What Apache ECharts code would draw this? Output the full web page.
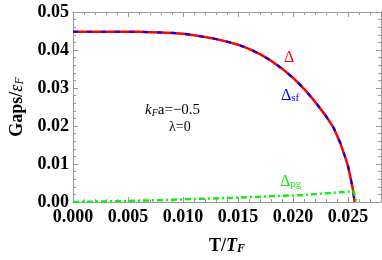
<!DOCTYPE html>
<html><head><meta charset="utf-8">
<script src="https://cdn.jsdelivr.net/npm/echarts@6/dist/echarts.min.js"></script>
<style>html,body{margin:0;padding:0;background:#fff}#c{width:382px;height:260px}</style>
</head><body><div id="c"></div>
<script>
// Temperature grid (T/T_F) for the superconducting gap curves
const T_gap = [0.000,0.002,0.004,0.006,0.007,0.008,0.009,0.010,0.011,0.012,0.013,0.014,0.015,0.016,0.017,0.018,0.019,0.020,0.021,0.022,0.023,0.0237,0.0243,0.0247,0.0250,0.0252,0.0254,0.0255,0.0256];
// total gap Δ
const delta = [0.0448,0.0448,0.0448,0.0448,0.0447,0.0446,0.0445,0.0443,0.0439,0.0434,0.0429,0.0422,0.0414,0.0403,0.0389,0.0372,0.0351,0.0327,0.0298,0.0264,0.0226,0.0195,0.0155,0.0122,0.0095,0.0068,0.0040,0.0023,0.0000];
// superfluid gap Δsf
const deltaSf = [0.0448,0.0448,0.0448,0.0448,0.0447,0.0446,0.0445,0.0443,0.0439,0.0434,0.0429,0.0422,0.0414,0.0403,0.0389,0.0372,0.0351,0.0327,0.0298,0.0264,0.0226,0.0195,0.0155,0.0122,0.0095,0.0068,0.0040,0.0023,0.0000];
// pseudogap Δpg
const T_pg = [0.000,0.004,0.008,0.011,0.0145,0.017,0.0207,0.023,0.0249,0.0255,0.0258];
const deltaPg = [0.0000,0.0002,0.0005,0.0008,0.0011,0.0014,0.0018,0.0023,0.0027,0.0029,0.0000];
// tick labels
const xTickLabels = ['0.000','0.005','0.010','0.015','0.020','0.025'];
const yTickLabels = ['0.00','0.01','0.02','0.03','0.04','0.05'];

const pairs = (xs, ys) => xs.map((x, i) => [x, ys[i]]);
const SERIF = "'Liberation Serif','DejaVu Serif',serif";
const FRAME = '#9a9a9a';

function xAx(pos, showLabel) {
  return {
    type: 'value', position: pos, min: 0, max: 0.028, interval: 0.005,
    axisLine: { show: true, onZero: false, lineStyle: { color: FRAME, width: 1 } },
    axisTick: { show: true, inside: true, length: 5, lineStyle: { color: FRAME } },
    minorTick: { show: true, splitNumber: 5, length: 3, lineStyle: { color: FRAME } },
    splitLine: { show: false }, minorSplitLine: { show: false },
    axisLabel: {
      show: showLabel, showMaxLabel: false, margin: 6,
      fontFamily: SERIF, fontWeight: 'bold', fontSize: 18, color: '#000',
      formatter: v => xTickLabels[Math.round(v / 0.005)] || ''
    },
    name: showLabel ? '{b|T/}{i|T}{s|F}' : '',
    nameLocation: 'middle', nameGap: 33,
    nameTextStyle: {
      rich: {
        b: { fontFamily: SERIF, fontWeight: 'bold', fontSize: 18, color: '#000', lineHeight: 20, verticalAlign: 'bottom' },
        i: { fontFamily: SERIF, fontWeight: 'bold', fontStyle: 'italic', fontSize: 18, color: '#000', lineHeight: 20, verticalAlign: 'bottom' },
        s: { fontFamily: SERIF, fontWeight: 'bold', fontStyle: 'italic', fontSize: 12, color: '#000', lineHeight: 10, verticalAlign: 'bottom' }
      }
    }
  };
}
function yAx(pos, showLabel) {
  return {
    type: 'value', position: pos, min: 0, max: 0.05, interval: 0.01,
    axisLine: { show: true, onZero: false, lineStyle: { color: FRAME, width: 1 } },
    axisTick: { show: true, inside: true, length: 5, lineStyle: { color: FRAME } },
    minorTick: { show: true, splitNumber: 5, length: 3, lineStyle: { color: FRAME } },
    splitLine: { show: false }, minorSplitLine: { show: false },
    axisLabel: {
      show: showLabel, margin: 4,
      fontFamily: SERIF, fontWeight: 'bold', fontSize: 18, color: '#000',
      formatter: v => yTickLabels[Math.round(v / 0.01)] || ''
    },
    name: showLabel ? '{b|Gaps/}{i|ε}{s|F}' : '',
    nameLocation: 'middle', nameGap: 47, nameRotate: 90,
    nameTextStyle: {
      rich: {
        b: { fontFamily: SERIF, fontWeight: 'bold', fontSize: 18, color: '#000', lineHeight: 20, verticalAlign: 'bottom' },
        i: { fontFamily: SERIF, fontStyle: 'italic', fontSize: 18, color: '#000', lineHeight: 20, verticalAlign: 'bottom' },
        s: { fontFamily: SERIF, fontStyle: 'italic', fontSize: 12, color: '#000', lineHeight: 10, verticalAlign: 'bottom' }
      }
    }
  };
}

const chart = echarts.init(document.getElementById('c'), null, { renderer: 'canvas' });
chart.setOption({
  animation: false,
  backgroundColor: '#fff',
  grid: { left: 66, right: 1, top: 12, bottom: 54, containLabel: false },
  xAxis: [xAx('bottom', true), xAx('top', false)],
  yAxis: [yAx('left', true), yAx('right', false)],
  series: [
    { type: 'line', name: 'Δ', data: pairs(T_gap, delta), showSymbol: false, symbol: 'none',
      lineStyle: { color: '#ff0000', width: 2.5 }, z: 2 },
    { type: 'line', name: 'Δsf', data: pairs(T_gap, deltaSf), showSymbol: false, symbol: 'none',
      lineStyle: { color: '#0000ff', width: 2.2, type: [5, 9] }, z: 3 },
    { type: 'line', name: 'Δpg', data: pairs(T_pg, deltaPg), showSymbol: false, symbol: 'none',
      lineStyle: { color: '#11ee11', width: 2.5, type: [6, 3, 2, 3] }, z: 4 }
  ],
  graphic: [
    { type: 'text', left: 284, top: 50, style: { text: 'Δ', font: "16px 'Liberation Serif', serif", fill: '#ff0000' } },
    { type: 'text', left: 281, top: 88, style: {
        text: '{d|Δ}{s|sf}', rich: {
          d: { fontFamily: SERIF, fontSize: 16, fill: '#0000ff', lineHeight: 18, verticalAlign: 'bottom' },
          s: { fontFamily: SERIF, fontSize: 11, fill: '#0000ff', lineHeight: 10, verticalAlign: 'bottom' } } } },
    { type: 'text', left: 280, top: 174, style: {
        text: '{d|Δ}{s|pg}', rich: {
          d: { fontFamily: SERIF, fontSize: 16, fill: '#11ee11', lineHeight: 18, verticalAlign: 'bottom' },
          s: { fontFamily: SERIF, fontSize: 11, fill: '#11ee11', lineHeight: 10, verticalAlign: 'bottom' } } } },
    { type: 'text', left: 145, top: 103, style: {
        text: '{i|k}{s|F}{r|a=−0.5}', rich: {
          i: { fontFamily: SERIF, fontStyle: 'italic', fontSize: 15, fill: '#000', lineHeight: 16, verticalAlign: 'bottom' },
          s: { fontFamily: SERIF, fontStyle: 'italic', fontSize: 10, fill: '#000', lineHeight: 10, verticalAlign: 'bottom' },
          r: { fontFamily: SERIF, fontSize: 15, fill: '#000', lineHeight: 16, verticalAlign: 'bottom' } } } },
    { type: 'text', left: 169, top: 120, style: { text: 'λ=0', font: "14px 'Liberation Serif', serif", fill: '#000' } }
  ]
});
</script></body></html>
